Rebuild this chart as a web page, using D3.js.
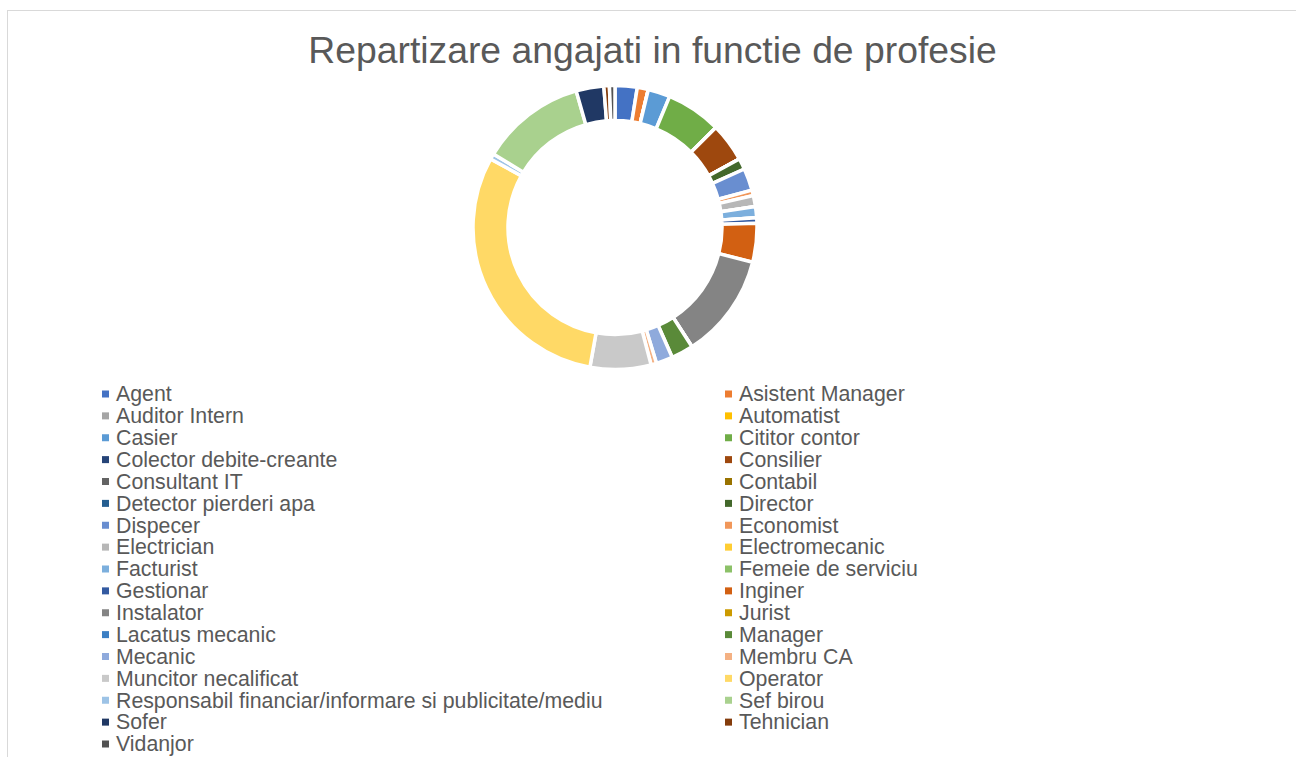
<!DOCTYPE html>
<html>
<head>
<meta charset="utf-8">
<script src="https://cdn.jsdelivr.net/npm/d3@7"></script>
<style>
  body { margin: 0; background: #fff; }
  svg { display: block; font-family: "Liberation Sans", Arial, sans-serif; }
</style>
</head>
<body>
<div id="chart"></div>
<script>
// Categories (legend order = slice order, clockwise from 12 o'clock)
const categories = [
    "Agent", "Asistent Manager", "Auditor Intern", "Automatist", "Casier",
    "Cititor contor", "Colector debite-creante", "Consilier", "Consultant IT",
    "Contabil", "Detector pierderi apa", "Director", "Dispecer", "Economist",
    "Electrician", "Electromecanic", "Facturist", "Femeie de serviciu",
    "Gestionar", "Inginer", "Instalator", "Jurist", "Lacatus mecanic",
    "Manager", "Mecanic", "Membru CA", "Muncitor necalificat", "Operator",
    "Responsabil financiar/informare si publicitate/mediu", "Sef birou",
    "Sofer", "Tehnician", "Vidanjor"
];

// Number of employees per profession
const counts = [
    4, 2, 0, 0, 4,
    10, 0, 7, 0,
    0, 0, 2, 4, 1,
    2, 0, 2, 0,
    1, 7, 19, 0, 0,
    4, 3, 1, 11, 48,
    1, 19,
    5, 1, 1
];

// Office palette
const colors = [
    "#4472C4", "#ED7D31", "#A5A5A5", "#FFC000", "#5B9BD5",
    "#70AD47", "#264478", "#9E480E", "#636363",
    "#997300", "#255E91", "#43682B", "#698ED0", "#F1975A",
    "#B7B7B7", "#FFCD33", "#7CAFDD", "#8CC168",
    "#335AA1", "#D26012", "#848484", "#CC9A00", "#3C7FC4",
    "#5A8A39", "#8FAADC", "#F4B183", "#C9C9C9", "#FFD966",
    "#9DC3E6", "#A9D18E",
    "#203864", "#843C0C", "#525252"
];

const data = categories.map((c, i) => ({ name: c, value: counts[i], color: colors[i] }));

const W = 1296, H = 757;
const svg = d3.select("#chart").append("svg")
    .attr("width", W)
    .attr("height", H);

// Chart area border
svg.append("rect")
    .attr("x", 7.5).attr("y", 10.5)
    .attr("width", W).attr("height", H)
    .attr("fill", "none")
    .attr("stroke", "#d9d9d9")
    .attr("stroke-width", 1);

// Title
svg.append("text")
    .attr("x", 652.5)
    .attr("y", 63)
    .attr("text-anchor", "middle")
    .attr("fill", "#595959")
    .style("font-size", "37.3px")
    .text("Repartizare angajati in functie de profesie");

// Doughnut
const cx = 615, cy = 227.5;
const pie = d3.pie().sort(null).value(d => d.value);
const arc = d3.arc().innerRadius(107).outerRadius(142);

svg.append("g")
    .attr("transform", `translate(${cx},${cy})`)
    .selectAll("path")
    .data(pie(data))
    .enter().append("path")
    .attr("d", arc)
    .attr("fill", d => d.data.color)
    .attr("stroke", "#fff")
    .attr("stroke-width", 3.5);

// Legend: two columns, filled row by row
const legendX = [102, 725];
const legendY0 = 394, rowH = 21.875;

const item = svg.append("g").selectAll("g")
    .data(data)
    .enter().append("g")
    .attr("transform", (d, i) => `translate(${legendX[i % 2]},${legendY0 + Math.floor(i / 2) * rowH})`);

item.append("rect")
    .attr("x", 0).attr("y", -3.5)
    .attr("width", 7).attr("height", 7)
    .attr("fill", d => d.color);

item.append("text")
    .attr("x", 14)
    .attr("y", 7.3)
    .attr("fill", "#595959")
    .style("font-size", "21.3px")
    .text(d => d.name);
</script>
</body>
</html>
